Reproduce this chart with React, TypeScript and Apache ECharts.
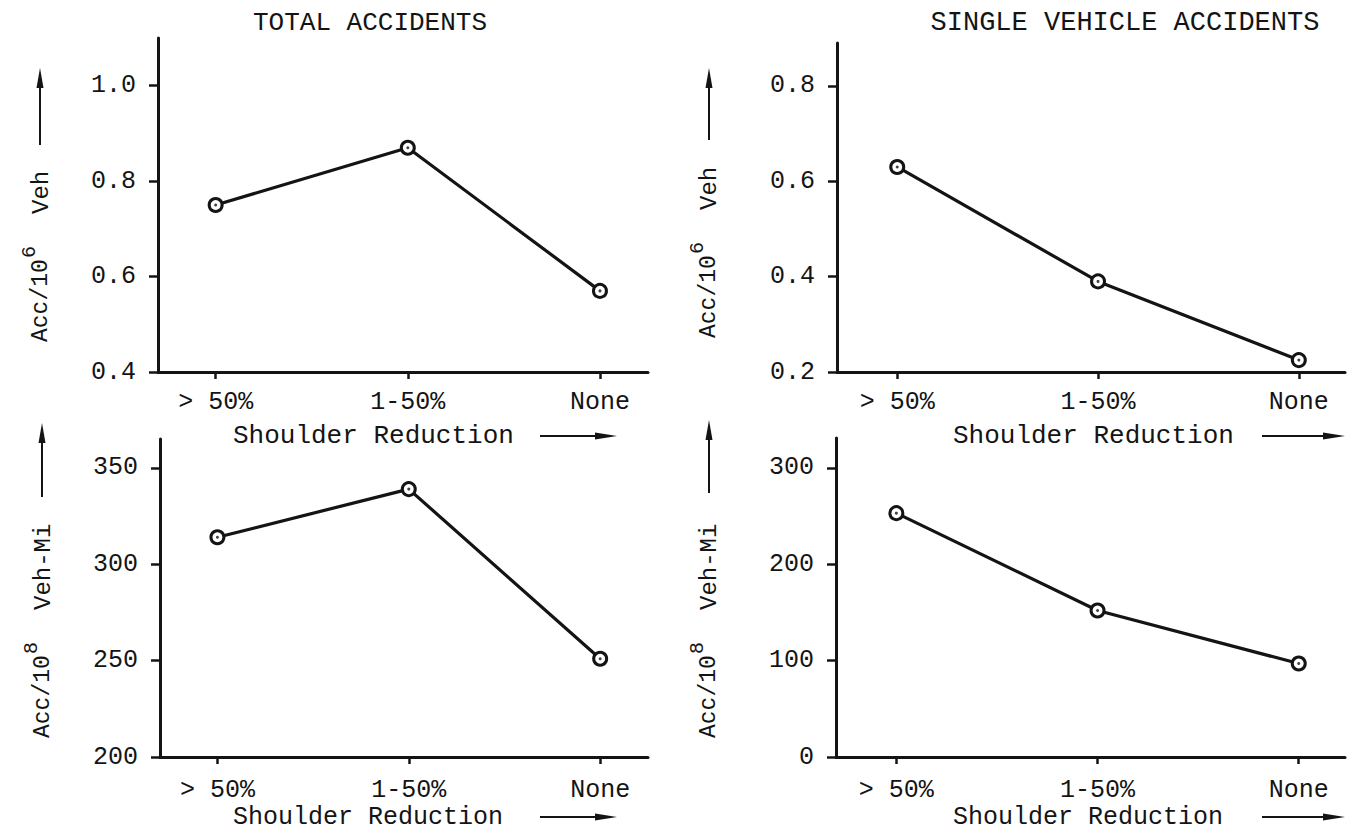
import React, { useEffect, useRef } from "react";
import * as echarts from "echarts";

const categories = ["> 50%", "1-50%", "None"];
const totalPerVeh = [0.75, 0.87, 0.57];
const singlePerVeh = [0.63, 0.39, 0.225];
const totalPerMi = [314, 339, 251];
const singlePerMi = [253, 152, 97];
const ticksTotalVeh = [0.4, 0.6, 0.8, 1.0];
const ticksSingleVeh = [0.2, 0.4, 0.6, 0.8];
const ticksTotalMi = [200, 250, 300, 350];
const ticksSingleMi = [0, 100, 200, 300];
const titles = ["TOTAL ACCIDENTS", "SINGLE VEHICLE ACCIDENTS"];
const xName = "Shoulder Reduction";

const FONT = "'Liberation Mono', 'DejaVu Sans Mono', monospace";
const INK = "#141414";

type Panel = {
  values: number[];
  ticks: number[];
  min: number;
  max: number;
  digits: number;
  xMax: number;
  labelMargin: number;
  grid: { left: number; top: number; width: number; height: number };
};

const panels: Panel[] = [
  { values: totalPerVeh, ticks: ticksTotalVeh, min: 0.4, max: 1.1, digits: 1, xMax: 2.25, labelMargin: 18, grid: { left: 158, top: 38, width: 490, height: 334 } },
  { values: singlePerVeh, ticks: ticksSingleVeh, min: 0.2, max: 0.89, digits: 1, xMax: 2.23, labelMargin: 18, grid: { left: 837, top: 43, width: 508, height: 329 } },
  { values: totalPerMi, ticks: ticksTotalMi, min: 200, max: 365, digits: 0, xMax: 2.25, labelMargin: 21, grid: { left: 160, top: 439, width: 488, height: 318 } },
  { values: singlePerMi, ticks: ticksSingleMi, min: 0, max: 331, digits: 0, xMax: 2.23, labelMargin: 21, grid: { left: 836, top: 438, width: 509, height: 319 } },
];

function upArrow(x: number, yTop: number, yBottom: number) {
  return [
    { type: "line", shape: { x1: x, y1: yBottom, x2: x, y2: yTop + 12 }, style: { stroke: INK, lineWidth: 2 } },
    { type: "polygon", shape: { points: [[x, yTop], [x - 3.5, yTop + 20], [x + 3.5, yTop + 20]] }, style: { fill: INK } },
  ];
}

function rightArrow(x1: number, x2: number, y: number) {
  return [
    { type: "line", shape: { x1, y1: y, x2: x2 - 12, y2: y }, style: { stroke: INK, lineWidth: 2 } },
    { type: "polygon", shape: { points: [[x2, y], [x2 - 22, y - 3.5], [x2 - 22, y + 3.5]] }, style: { fill: INK } },
  ];
}

function yLabel(x: number, y: number, sup: string, tail: string) {
  const base = { fontFamily: FONT, fontSize: 23, fill: INK, textAlign: "left", textVerticalAlign: "middle" };
  return {
    type: "group",
    x,
    y,
    rotation: Math.PI / 2,
    children: [
      { type: "text", x: 0, y: 0, style: { ...base, text: "Acc/10" } },
      { type: "text", x: 84, y: -12, style: { ...base, fontSize: 20, text: sup } },
      { type: "text", x: 128, y: 0, style: { ...base, fontSize: 24, text: tail } },
    ],
  };
}

export default function App() {
  const ref = useRef<HTMLDivElement>(null);

  useEffect(() => {
    document.body.style.margin = "0";
    const chart = echarts.init(ref.current!, null, { renderer: "svg" });

    const grids = panels.map((p) => ({ ...p.grid, containLabel: false }));
    const xAxes = panels.map((p, i) => ({
      type: "value",
      gridIndex: i,
      min: -0.3,
      max: p.xMax,
      axisLine: { show: true, onZero: false, lineStyle: { color: INK, width: 3 } },
      axisTick: { show: true, customValues: [0, 1, 2], length: 7, lineStyle: { color: INK, width: 2.5 } },
      axisLabel: {
        show: true,
        customValues: [0, 1, 2],
        formatter: (v: number) => categories[Math.round(v)],
        margin: p.labelMargin,
        fontFamily: FONT,
        fontSize: 25,
        color: INK,
      },
      splitLine: { show: false },
    }));
    const yAxes = panels.map((p, i) => ({
      type: "value",
      gridIndex: i,
      min: p.min,
      max: p.max,
      axisLine: { show: true, onZero: false, lineStyle: { color: INK, width: 3 } },
      axisTick: { show: true, customValues: p.ticks, length: 9, lineStyle: { color: INK, width: 2.5 } },
      axisLabel: {
        show: true,
        customValues: p.ticks,
        formatter: (v: number) => v.toFixed(p.digits),
        margin: 22,
        fontFamily: FONT,
        fontSize: 25,
        color: INK,
      },
      splitLine: { show: false },
    }));
    const series: any[] = [];
    panels.forEach((p, i) => {
      const data = p.values.map((v, j) => [j, v]);
      series.push({
        type: "line",
        xAxisIndex: i,
        yAxisIndex: i,
        data,
        symbol: "circle",
        symbolSize: 13,
        itemStyle: { color: "#fff", borderColor: INK, borderWidth: 3 },
        lineStyle: { color: INK, width: 3.2 },
        z: 3,
      });
      series.push({
        type: "scatter",
        xAxisIndex: i,
        yAxisIndex: i,
        data,
        symbolSize: 3,
        itemStyle: { color: INK },
        z: 5,
      });
    });

    const textBase = { fontFamily: FONT, fill: INK, textVerticalAlign: "middle" };
    const graphic: any[] = [
      { type: "text", x: 370, y: 23, style: { ...textBase, text: titles[0], fontSize: 26, textAlign: "center" } },
      { type: "text", x: 1125, y: 23, style: { ...textBase, text: titles[1], fontSize: 27, textAlign: "center" } },
      { type: "text", x: 233, y: 436, style: { ...textBase, text: xName, fontSize: 26, textAlign: "left" } },
      { type: "text", x: 953, y: 436, style: { ...textBase, text: xName, fontSize: 26, textAlign: "left" } },
      { type: "text", x: 233, y: 817, style: { ...textBase, text: xName, fontSize: 25, textAlign: "left" } },
      { type: "text", x: 953, y: 817, style: { ...textBase, text: xName, fontSize: 25, textAlign: "left" } },
      ...rightArrow(540, 617, 436),
      ...rightArrow(1262, 1345, 436),
      ...rightArrow(540, 617, 817),
      ...rightArrow(1262, 1345, 817),
      ...upArrow(40, 68, 145),
      ...upArrow(709, 68, 140),
      ...upArrow(42, 423, 497),
      ...upArrow(709, 420, 493),
      yLabel(41, 342, "6", "Veh"),
      yLabel(709, 338, "6", "Veh"),
      yLabel(43, 738, "8", "Veh-Mi"),
      yLabel(709, 738, "8", "Veh-Mi"),
    ];

    chart.setOption({
      animation: false,
      backgroundColor: "#ffffff",
      grid: grids,
      xAxis: xAxes,
      yAxis: yAxes,
      series,
      graphic,
    });
    return () => chart.dispose();
  }, []);

  return <div ref={ref} style={{ position: "fixed", left: 0, top: 0, width: 1352, height: 830 }} />;
}
